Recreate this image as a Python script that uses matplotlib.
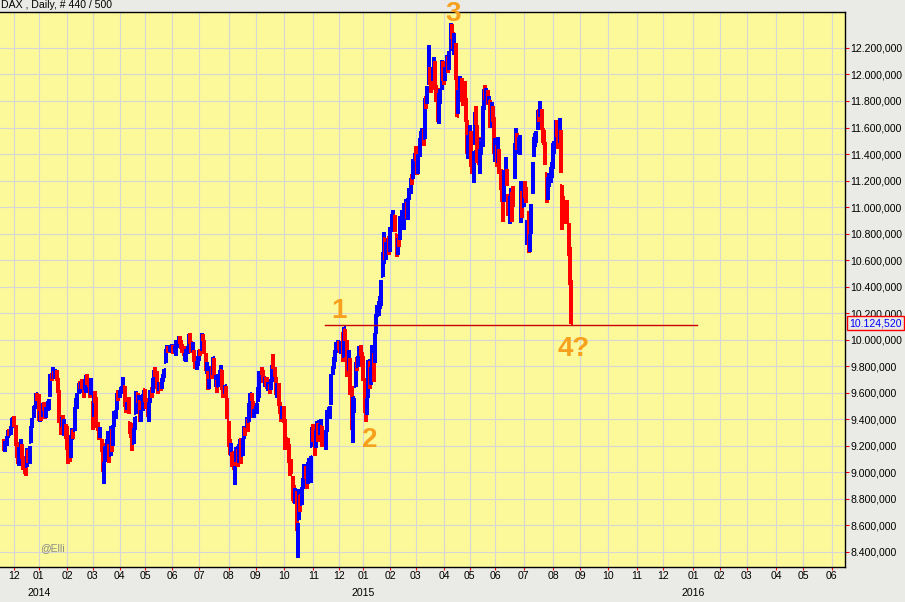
import numpy as np
import matplotlib
matplotlib.use("Agg")
import matplotlib.pyplot as plt
from matplotlib.collections import LineCollection
from matplotlib.transforms import blended_transform_factory

plt.rcParams['font.family'] = ['Liberation Sans', 'DejaVu Sans']

# DAX daily bars, 20 Nov 2013 .. 21 Aug 2015 (one line per month)
opens = [
    9230, 9180, 9225, 9270, 9300, 9290, 9340, 9400,
    9410, 9350, 9215, 9150, 9080, 9190, 9200, 9110, 9040, 9010, 9050, 9160, 9090, 9230, 9340, 9420, 9489, 9510, 9580,
    9560, 9410, 9450, 9440, 9510, 9500, 9430, 9480, 9490, 9580, 9720, 9720, 9740, 9720, 9740, 9700, 9600, 9360, 9370, 9400, 9300, 9330,
    9320, 9160, 9140, 9130, 9270, 9310, 9320, 9490, 9500, 9610, 9670, 9650, 9670, 9620, 9640, 9650, 9720, 9700, 9650, 9600,
    9520, 9430, 9590, 9530, 9360, 9310, 9280, 9240, 9190, 9020, 9100, 9190, 9260, 9200, 9130, 9310, 9210, 9350, 9420, 9480, 9590,
    9580, 9610, 9620, 9650, 9640, 9500, 9490, 9550, 9370, 9340, 9330, 9220, 9330, 9450, 9590, 9530, 9530, 9420, 9470, 9580,
    9620, 9550, 9530, 9450, 9540, 9600, 9610, 9720, 9760, 9750, 9650, 9640, 9660, 9650, 9700, 9730, 9830, 9930, 9940, 9930, 9940,
    9950, 9940, 9920, 9930, 9950, 9990, 10000, 9990, 9940, 9930, 9880, 9890, 9920, 9960, 9990, 9970, 9930, 9910, 9870, 9810, 9830,
    9850, 9910, 9930, 10020, 9990, 9890, 9770, 9740, 9660, 9720, 9780, 9750, 9850, 9700, 9680, 9650, 9740, 9770, 9760, 9640, 9610, 9630, 9550,
    9380, 9230, 9170, 9140, 9130, 9000, 9090, 9160, 9090, 9200, 9210, 9130, 9260, 9320, 9350, 9380, 9390, 9520, 9580, 9530, 9440,
    9460, 9470, 9540, 9630, 9720, 9760, 9750, 9670, 9700, 9700, 9640, 9650, 9640, 9690, 9820, 9780, 9710, 9600, 9660, 9520, 9440, 9440,
    9470, 9380, 9200, 9250, 9200, 9060, 9080, 8950, 8830, 8800, 8830, 8550, 8650, 8820, 8760, 8900, 8900, 9030, 8980, 8930, 9080, 9050, 9200,
    9330, 9230, 9200, 9320, 9350, 9320, 9350, 9340, 9250, 9260, 9220, 9320, 9450, 9420, 9520, 9750, 9800, 9850, 9920, 9970,
    9970, 9960, 9940, 9990, 9880, 10070, 9990, 9820, 9780, 9850, 9600, 9380, 9530, 9650, 9840, 9800, 9890, 9930, 9900,
    9820, 9700, 9470, 9500, 9570, 9820, 9700, 9810, 9880, 9850, 10060, 10190, 10230, 10270, 10310, 10480, 10580, 10760, 10640, 10680, 10760,
    10700, 10840, 10900, 10850, 10930, 10790, 10680, 10780, 10780, 10940, 10920, 10900, 11030, 11020, 10980, 11080, 11130, 11220, 11220, 11360,
    11420, 11400, 11330, 11400, 11520, 11530, 11570, 11520, 11800, 11830, 11940, 12030, 11960, 12000, 12030, 12050, 11890, 11850, 11780, 11840, 11900, 12070,
    11990, 11980, 12080, 12110, 12060, 12190, 12350, 12300, 12230, 12220, 11950, 11730, 11880, 11900, 11930, 11860, 11880, 11800, 11650, 11420,
    11500, 11560, 11370, 11250, 11480, 11720, 11600, 11500, 11380, 11420, 11480, 11760, 11860, 11830, 11870, 11810, 11800, 11640, 11740, 11670,
    11430, 11420, 11360, 11410, 11280, 11190, 11050, 11050, 11290, 11270, 11080, 10990, 11050, 11060, 11050, 11230, 11470, 11480, 11460, 11450, 11030, 11090,
    11010, 11160, 11090, 10810, 10900, 10690, 10830, 11130, 11410, 11480, 11540, 11600, 11710, 11700, 11720, 11570, 11540, 11470, 11250, 11100, 11200, 11230, 11280,
    11320, 11440, 11500, 11630, 11560, 11500, 11560, 11160, 11000, 10990, 10950, 10960, 10850, 10600, 10410,
]
highs = [
    9250, 9235, 9270, 9318, 9325, 9345, 9410, 9420,
    9424, 9355, 9230, 9185, 9190, 9250, 9215, 9120, 9060, 9050, 9180, 9170, 9200, 9345, 9410, 9500, 9495, 9594, 9600,
    9590, 9460, 9470, 9520, 9530, 9510, 9490, 9540, 9550, 9740, 9750, 9794, 9760, 9780, 9770, 9710, 9620, 9420, 9420, 9430, 9400, 9360,
    9350, 9200, 9180, 9280, 9330, 9320, 9490, 9560, 9600, 9670, 9680, 9680, 9700, 9650, 9700, 9730, 9740, 9710, 9670, 9710,
    9540, 9600, 9610, 9570, 9380, 9330, 9340, 9250, 9220, 9080, 9200, 9250, 9310, 9210, 9350, 9320, 9350, 9460, 9470, 9600, 9620,
    9620, 9640, 9650, 9721, 9650, 9530, 9530, 9570, 9380, 9370, 9340, 9330, 9420, 9610, 9600, 9580, 9540, 9470, 9590, 9620,
    9630, 9560, 9550, 9530, 9620, 9640, 9710, 9770, 9790, 9760, 9670, 9680, 9680, 9710, 9740, 9780, 9930, 9960, 9950, 9950, 9960,
    9970, 9960, 9950, 10000, 10000, 10030, 10030, 10000, 9970, 9950, 9900, 9930, 9950, 10040, 10050, 9990, 9980, 9920, 9880, 9840, 9880,
    9920, 9930, 10050, 10040, 10000, 9900, 9830, 9760, 9700, 9800, 9800, 9870, 9860, 9730, 9690, 9740, 9770, 9810, 9770, 9660, 9660, 9650, 9560,
    9390, 9250, 9220, 9150, 9160, 9050, 9190, 9170, 9210, 9250, 9260, 9260, 9350, 9340, 9420, 9400, 9520, 9600, 9600, 9540, 9480,
    9500, 9520, 9640, 9760, 9750, 9790, 9770, 9720, 9720, 9720, 9680, 9660, 9700, 9810, 9891, 9790, 9720, 9670, 9670, 9530, 9460, 9500,
    9500, 9400, 9250, 9260, 9210, 9080, 9100, 8970, 8900, 8880, 8860, 8620, 8870, 8830, 8890, 8960, 9060, 9050, 8990, 9080, 9110, 9120, 9340,
    9360, 9250, 9320, 9390, 9370, 9360, 9400, 9350, 9310, 9290, 9320, 9470, 9490, 9500, 9740, 9800, 9870, 9920, 9980, 10000,
    9990, 9990, 9990, 10060, 10093, 10080, 10000, 9860, 9920, 9860, 9650, 9570, 9560, 9830, 9870, 9880, 9950, 9960, 9910,
    9880, 9710, 9520, 9560, 9850, 9830, 9790, 9960, 9900, 10050, 10190, 10260, 10290, 10330, 10450, 10660, 10810, 10770, 10740, 10760, 10780,
    10850, 10950, 10980, 10940, 10940, 10800, 10770, 10800, 10930, 10980, 10960, 11030, 11060, 11030, 11060, 11140, 11220, 11250, 11360, 11410,
    11460, 11420, 11400, 11520, 11570, 11600, 11590, 11820, 11840, 11910, 12219, 12060, 12050, 12060, 12130, 12100, 11920, 11900, 11860, 11890, 12110, 12100,
    12030, 12060, 12150, 12140, 12180, 12390, 12380, 12320, 12310, 12240, 11970, 11880, 11990, 11960, 11970, 11900, 11950, 11820, 11660, 11540,
    11620, 11570, 11420, 11420, 11720, 11760, 11620, 11530, 11440, 11520, 11760, 11890, 11920, 11900, 11880, 11840, 11810, 11790, 11760, 11680,
    11520, 11470, 11530, 11440, 11290, 11200, 11110, 11280, 11380, 11290, 11100, 11080, 11140, 11110, 11160, 11480, 11600, 11560, 11530, 11540, 11200, 11120,
    11200, 11200, 11150, 10900, 10970, 10800, 11020, 11340, 11530, 11560, 11570, 11730, 11740, 11800, 11740, 11600, 11580, 11490, 11260, 11230, 11260, 11300, 11340,
    11480, 11500, 11660, 11660, 11590, 11670, 11580, 11170, 11080, 11040, 11030, 11050, 10880, 10700, 10450,
]
lows = [
    9160, 9150, 9200, 9255, 9270, 9280, 9330, 9375,
    9340, 9200, 9110, 9060, 9050, 9170, 9100, 9020, 8990, 8970, 9040, 9070, 9060, 9220, 9330, 9410, 9480, 9500, 9540,
    9390, 9380, 9390, 9420, 9460, 9400, 9410, 9460, 9470, 9570, 9690, 9700, 9700, 9700, 9690, 9600, 9370, 9280, 9340, 9310, 9270, 9250,
    9170, 9060, 9080, 9110, 9240, 9250, 9310, 9480, 9480, 9590, 9630, 9600, 9630, 9560, 9620, 9600, 9660, 9640, 9560, 9580,
    9320, 9420, 9520, 9330, 9310, 9240, 9260, 9150, 9000, 8913, 9080, 9150, 9230, 9070, 9120, 9150, 9200, 9340, 9400, 9470, 9540,
    9560, 9590, 9600, 9630, 9490, 9450, 9470, 9440, 9290, 9260, 9160, 9210, 9320, 9440, 9520, 9480, 9380, 9380, 9460, 9550,
    9530, 9480, 9420, 9380, 9520, 9560, 9600, 9700, 9720, 9630, 9590, 9610, 9610, 9630, 9680, 9710, 9820, 9910, 9900, 9910, 9920,
    9900, 9890, 9900, 9880, 9940, 9980, 9970, 9930, 9900, 9880, 9840, 9830, 9890, 9950, 9970, 9900, 9910, 9830, 9780, 9770, 9800,
    9840, 9880, 9920, 9990, 9890, 9760, 9740, 9620, 9630, 9710, 9700, 9740, 9720, 9640, 9600, 9640, 9700, 9740, 9620, 9560, 9590, 9560, 9400,
    9190, 9130, 9120, 9040, 9020, 8903, 9080, 9040, 9070, 9150, 9060, 9120, 9250, 9270, 9340, 9300, 9380, 9510, 9540, 9410, 9410,
    9440, 9440, 9530, 9560, 9670, 9730, 9670, 9640, 9650, 9630, 9610, 9590, 9620, 9680, 9780, 9720, 9580, 9560, 9500, 9440, 9380, 9400,
    9370, 9170, 9170, 9180, 9070, 8970, 8990, 8780, 8770, 8760, 8560, 8355, 8640, 8700, 8750, 8880, 8870, 8950, 8870, 8910, 9030, 8920, 9190,
    9230, 9120, 9180, 9250, 9230, 9280, 9330, 9190, 9220, 9200, 9170, 9300, 9430, 9400, 9510, 9730, 9780, 9830, 9900, 9940,
    9920, 9900, 9890, 9830, 9870, 9990, 9720, 9750, 9770, 9580, 9320, 9219, 9450, 9640, 9760, 9790, 9860, 9880, 9790,
    9690, 9450, 9382, 9430, 9560, 9630, 9660, 9760, 9680, 9820, 10040, 10170, 10180, 10230, 10250, 10470, 10570, 10600, 10600, 10640, 10640,
    10660, 10810, 10850, 10810, 10810, 10620, 10640, 10700, 10750, 10900, 10880, 10830, 10980, 10910, 10900, 11050, 11100, 11170, 11210, 11330,
    11350, 11240, 11250, 11380, 11480, 11480, 11460, 11510, 11740, 11780, 11920, 11920, 11860, 11950, 11990, 11880, 11790, 11640, 11630, 11780, 11880, 11950,
    11920, 11950, 12060, 12010, 12030, 12180, 12270, 12190, 12150, 11960, 11680, 11700, 11840, 11860, 11790, 11760, 11780, 11640, 11400, 11360,
    11470, 11300, 11250, 11180, 11470, 11620, 11330, 11320, 11250, 11390, 11450, 11730, 11810, 11790, 11770, 11780, 11600, 11600, 11640, 11400,
    11340, 11300, 11330, 11250, 11130, 11040, 10890, 11040, 11260, 11160, 10930, 10870, 10960, 10890, 11000, 11210, 11420, 11430, 11400, 11390, 10880, 10920,
    11000, 11070, 11030, 10710, 10657, 10660, 10800, 11100, 11380, 11450, 11480, 11580, 11640, 11680, 11580, 11480, 11470, 11320, 11030, 11050, 11150, 11180, 11220,
    11290, 11400, 11490, 11530, 11440, 11490, 11260, 10830, 10900, 10890, 10870, 10880, 10630, 10410, 10120,
]
closes = [
    9193, 9219, 9255, 9298, 9291, 9333, 9401, 9405,
    9364, 9225, 9140, 9084, 9172, 9211, 9114, 9035, 9000, 9006, 9164, 9085, 9181, 9335, 9400, 9489, 9489, 9589, 9552,
    9400, 9435, 9428, 9506, 9497, 9422, 9473, 9511, 9540, 9733, 9717, 9742, 9715, 9730, 9720, 9631, 9392, 9349, 9406, 9336, 9374, 9306,
    9186, 9128, 9117, 9265, 9302, 9290, 9478, 9541, 9597, 9663, 9657, 9660, 9661, 9618, 9657, 9709, 9699, 9661, 9589, 9692,
    9358, 9589, 9542, 9350, 9350, 9265, 9307, 9189, 9017, 9056, 9180, 9243, 9277, 9094, 9343, 9188, 9338, 9448, 9451, 9587, 9556,
    9603, 9623, 9628, 9695, 9510, 9490, 9506, 9455, 9315, 9339, 9174, 9317, 9409, 9600, 9545, 9549, 9402, 9446, 9584, 9603,
    9556, 9530, 9467, 9521, 9607, 9581, 9703, 9754, 9755, 9656, 9630, 9659, 9639, 9697, 9721, 9768, 9925, 9940, 9939, 9938, 9943,
    9950, 9920, 9926, 9947, 9987, 10008, 9999, 9950, 9938, 9912, 9883, 9920, 9937, 9987, 9987, 9921, 9938, 9867, 9806, 9815, 9833,
    9902, 9903, 10029, 10009, 9906, 9772, 9808, 9659, 9666, 9783, 9719, 9860, 9753, 9720, 9612, 9735, 9753, 9797, 9644, 9593, 9653, 9593, 9407,
    9210, 9154, 9189, 9130, 9038, 9010, 9180, 9069, 9198, 9225, 9092, 9245, 9334, 9315, 9401, 9340, 9510, 9588, 9569, 9462, 9470,
    9480, 9507, 9626, 9724, 9747, 9758, 9686, 9710, 9691, 9651, 9660, 9632, 9661, 9799, 9799, 9749, 9595, 9661, 9510, 9490, 9422, 9474,
    9382, 9195, 9195, 9209, 9086, 9005, 9005, 8788, 8812, 8825, 8572, 8582, 8850, 8717, 8886, 8940, 9047, 8988, 8902, 9068, 9083, 9114, 9326,
    9251, 9166, 9315, 9377, 9291, 9351, 9369, 9210, 9249, 9252, 9307, 9456, 9472, 9483, 9732, 9785, 9861, 9915, 9974, 9980,
    9963, 9934, 9971, 9851, 10087, 10014, 9799, 9799, 9903, 9594, 9334, 9563, 9544, 9811, 9787, 9865, 9922, 9927, 9806,
    9765, 9473, 9469, 9518, 9838, 9648, 9782, 9941, 9818, 10032, 10167, 10242, 10257, 10299, 10435, 10649, 10798, 10628, 10710, 10738, 10694,
    10828, 10891, 10911, 10905, 10846, 10664, 10752, 10752, 10920, 10963, 10924, 11014, 11054, 10961, 11050, 11131, 11205, 11210, 11352, 11401,
    11413, 11345, 11390, 11504, 11550, 11582, 11500, 11805, 11799, 11901, 12050, 11980, 11923, 12019, 12040, 11896, 11865, 11843, 11809, 11868, 12086, 11966,
    11968, 12001, 12123, 12035, 12166, 12375, 12338, 12228, 12231, 12000, 11689, 11850, 11940, 11918, 11811, 11810, 11795, 11723, 11432, 11454,
    11600, 11327, 11351, 11416, 11709, 11673, 11472, 11351, 11400, 11447, 11734, 11853, 11848, 11864, 11815, 11816, 11625, 11771, 11673, 11413,
    11436, 11328, 11420, 11340, 11197, 11065, 10985, 11265, 11333, 11197, 10984, 11044, 11100, 11040, 11040, 11461, 11471, 11472, 11473, 11492, 11083, 10945,
    11180, 11099, 11058, 10890, 10676, 10747, 10997, 11316, 11484, 11516, 11540, 11717, 11673, 11735, 11604, 11520, 11513, 11347, 11056, 11174, 11212, 11257, 11309,
    11443, 11456, 11636, 11585, 11490, 11604, 11293, 10925, 10985, 10985, 10940, 10915, 10655, 10432, 10124.52,
]

# trading days per month, Nov 2013 (partial) .. May 2016 -> month ticks Dec 2013 .. Jun 2016
month_days = [8, 19, 22, 20, 21, 20, 21, 21, 23, 21, 22, 23, 20, 19,
              21, 20, 22, 20, 20, 22, 23, 21, 22, 22, 21, 23, 21, 21, 23, 21, 22]
month_labels = (["12"] + ["%02d" % m for m in range(1, 13)] * 2
                + ["%02d" % m for m in range(1, 7)])
year_labels = ["2014", "2015", "2016"]
year_months = [1, 13, 25]

support = 10110
support_span = (250, 540)
wave_labels = ["1", "2", "3", "4?"]
wave_x = [261, 285, 350, 444]
wave_y = [10161, 9192, 12405, 9879]

assert len(opens) == len(highs) == len(lows) == len(closes)


def de_fmt(v):
    s = "{:,.3f}".format(v)
    return s.replace(",", "_").replace(".", ",").replace("_", ".")


o = np.array(opens, float)
h = np.array(highs, float)
l = np.array(lows, float)
c = np.array(closes, float)
x = np.arange(len(c))
w = 1.4

segs, cols = [], []
for i in range(len(c)):
    col = "#0000FF" if c[i] >= o[i] else "#FF0000"
    segs += [[(x[i], l[i]), (x[i], h[i])],
             [(x[i] - w, o[i]), (x[i], o[i])],
             [(x[i], c[i]), (x[i] + w, c[i])]]
    cols += [col] * 3

bg = "#EAEAE6"
fig = plt.figure(figsize=(9.05, 6.02), dpi=100, facecolor=bg)
ax = fig.add_axes([0, 35 / 602, 845 / 905, 555.5 / 602])
ax.set_facecolor("#FBF99A")

ax.add_collection(LineCollection(segs, colors=cols, linewidths=1.5,
                                 capstyle="butt", antialiaseds=False,
                                 zorder=3))

ax.set_xlim(-3.2, 655.5)
ax.set_ylim(8285, 12475)

ticks = np.cumsum(month_days)
ax.set_xticks(ticks)
ax.set_xticklabels(month_labels)
yt = np.arange(8400, 12201, 200)
ax.set_yticks(yt)
ax.set_yticklabels([de_fmt(v) for v in yt])

ax.yaxis.tick_right()
ax.tick_params(axis="y", colors="#FF0000", labelcolor="black", length=3.2,
               width=0.8, pad=0.5, labelsize=7.6)
ax.tick_params(axis="x", colors="#FF0000", labelcolor="black", length=2,
               width=0.8, pad=1.2, labelsize=7.6)
ax.grid(True, color="#D6D6D6", lw=0.8)
ax.set_axisbelow(True)

ax.spines["left"].set_visible(False)
for s in ["top", "right", "bottom"]:
    ax.spines[s].set_color("black")
    ax.spines[s].set_linewidth(1.0)

# year row under the january ticks
tr = blended_transform_factory(ax.transData, fig.transFigure)
for lab, m in zip(year_labels, year_months):
    ax.text(ticks[m], 1 - 592.7 / 602, lab, transform=tr, ha="center",
            va="center", fontsize=7.6, clip_on=False)

# support line and wave count
ax.plot(support_span, [support, support], color="#CC0000", lw=1, zorder=4)
for lab, wx, wy in zip(wave_labels, wave_x, wave_y):
    ax.text(wx, wy, lab, color="#F7A01E", fontsize=20, fontweight="bold",
            ha="center", va="baseline", zorder=5, clip_on=False)

# last price box
tr2 = blended_transform_factory(ax.transAxes, ax.transData)
ax.text(1 + 4.3 / 845, closes[-1], de_fmt(closes[-1]), transform=tr2,
        ha="left", va="center", color="#0000FF", fontsize=7.6, clip_on=False,
        bbox=dict(boxstyle="square,pad=0.22", fc=bg, ec="#FF0000", lw=1.0))

ax.text(40 / 845, 19 / 555.5, "@Elli", transform=ax.transAxes,
        color="#8A8A8A", fontsize=7.5, va="center")
fig.text(0.001, 1 - 8.3 / 602, "DAX , Daily, # 440 / 500", fontsize=7.6,
         va="baseline")

fig.savefig("out.png", dpi=100, facecolor=bg)
